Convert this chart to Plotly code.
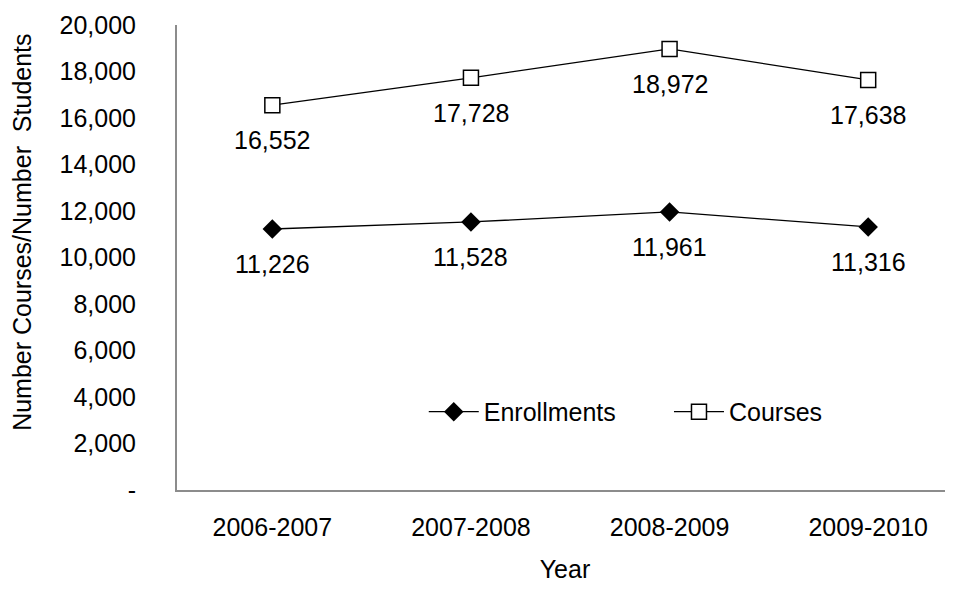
import plotly.graph_objects as go

# dados
years = ['2006-2007', '2007-2008', '2008-2009', '2009-2010']
enrollments = [11226, 11528, 11961, 11316]
courses = [16552, 17728, 18972, 17638]
y_ticks = [0, 2000, 4000, 6000, 8000, 10000, 12000, 14000, 16000, 18000, 20000]
y_labels = ['-', '2,000', '4,000', '6,000', '8,000', '10,000', '12,000',
            '14,000', '16,000', '18,000', '20,000']

font_name = 'Liberation Sans, Arial, sans-serif'
fs = 25

fig = go.Figure()

# linha das matrículas (losango preto)
fig.add_trace(go.Scatter(
    x=years, y=enrollments, name='Enrollments', mode='lines+markers',
    line=dict(color='black', width=1.3),
    marker=dict(symbol='diamond', size=15, color='black'),
    legend='legend',
))

# linha dos cursos (quadrado branco)
fig.add_trace(go.Scatter(
    x=years, y=courses, name='Courses', mode='lines+markers',
    line=dict(color='black', width=1.3),
    marker=dict(symbol='square', size=15, color='white',
                line=dict(color='black', width=1.5)),
    legend='legend2',
))

# rótulos de valor abaixo de cada ponto
for serie in (enrollments, courses):
    for x, v in zip(years, serie):
        fig.add_annotation(x=x, y=v, text=f'{v:,}', showarrow=False,
                           yshift=-35, font=dict(size=fs, color='black'))

# título do eixo y como anotação (para controlar a posição)
fig.add_annotation(xref='paper', yref='paper', x=0, y=0.553, xshift=-155,
                   xanchor='center', yanchor='middle',
                   text='Number Courses/Number\u00a0 Students', textangle=-90,
                   showarrow=False, font=dict(size=fs, color='black'))

leg = dict(orientation='h', xanchor='left', yanchor='middle',
           bgcolor='rgba(0,0,0,0)', font=dict(size=fs), itemwidth=50)

# a página tem 8px de margem no body, por isso o figure é 8px menor
fig.update_layout(
    width=945, height=582,
    margin=dict(l=169, r=0, t=17, b=100),
    paper_bgcolor='white', plot_bgcolor='white',
    font=dict(family=font_name, size=fs, color='black'),
    showlegend=True,
    legend=dict(leg, x=0.318, y=0.168),
    legend2=dict(leg, x=0.634, y=0.168),
)

fig.update_xaxes(
    type='category', range=[-0.48, 3.427],
    showline=True, linecolor='#8c8c8c', linewidth=2,
    showgrid=False, zeroline=False, ticks='', ticklabelstandoff=14,
    title=dict(text='Year', standoff=20, font=dict(size=fs)),
)

fig.update_yaxes(
    range=[0, 20000], tickvals=y_ticks, ticktext=y_labels,
    showline=True, linecolor='#8c8c8c', linewidth=2,
    showgrid=False, zeroline=False, ticks='', ticklabelstandoff=34,
)

fig.write_html('out.html')
